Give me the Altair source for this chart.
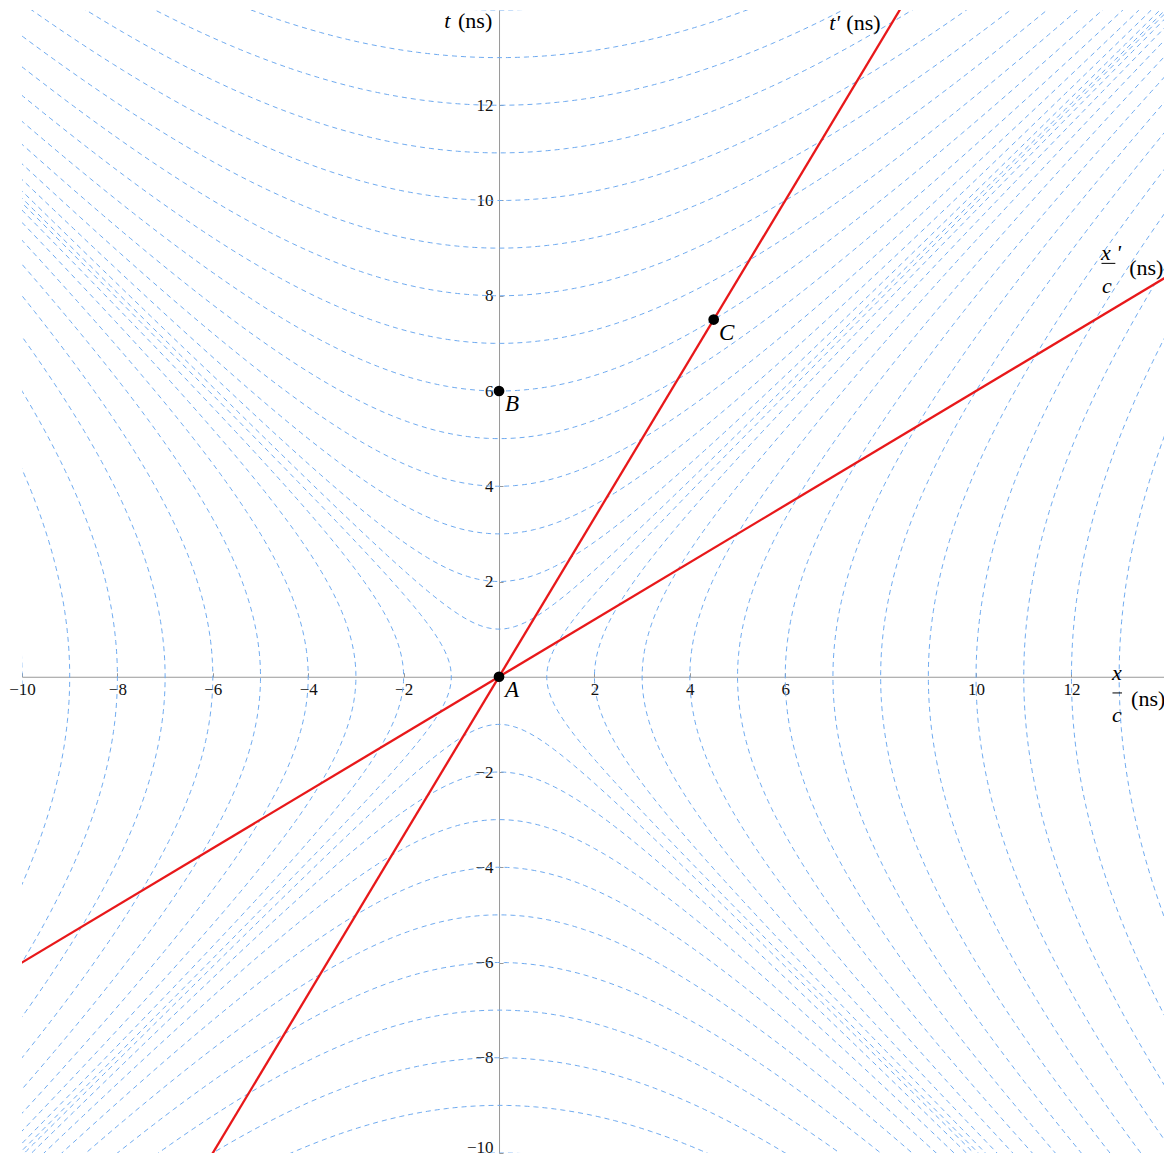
import altair as alt
import numpy as np
import pandas as pd

# ---- data -------------------------------------------------------------
X_DOMAIN = [-10, 13.94]
T_DOMAIN = [-10, 14]
x_tick_values = [-10, -8, -6, -4, -2, 2, 4, 6, 10, 12]
t_tick_values = [-10, -8, -6, -4, -2, 2, 4, 6, 8, 10, 12]
hyperbola_levels = [1, 2, 3, 4, 5, 6, 7, 8, 9, 10, 11, 12, 13, 14]
beta = 0.6  # velocity of primed frame (in units of c)

event_names = ["A", "B", "C"]
event_x = [0.0, 0.0, 4.5]
event_t = [0.0, 6.0, 7.5]

# annotation texts (axis titles)
italic_text = ["t", "t'", "x '", "c", "x", "c"]
italic_x = [-1.15, 6.92, 12.62, 12.64, 12.85, 12.85]
italic_y = [13.62, 13.57, 8.76, 8.06, -0.07, -0.96]
roman_text = ["(ns)", "(ns)", "(ns)", "(ns)"]
roman_x = [-0.86, 7.28, 13.21, 13.25]
roman_y = [13.62, 13.57, 8.44, -0.62]
bar_x = [12.63, 12.86]
bar_x2 = [12.92, 13.06]
bar_y = [8.68, -0.34]

# ---- derived tables ---------------------------------------------------
W, H = 1142, 1143
s = np.linspace(-10.6, 14.6, 361)
rows = []
for k in hyperbola_levels:
    r = np.sqrt(s ** 2 + k ** 2)
    for name, xs, ys in [("up", s, r), ("down", s, -r), ("right", r, s), ("left", -r, s)]:
        for i, (a, b) in enumerate(zip(xs, ys)):
            if -11 <= a <= 15 and -11 <= b <= 15:
                rows.append({"x": float(a), "y": float(b), "curve": f"{k}-{name}", "i": i})
hyp = pd.DataFrame(rows)

ends = [-10.6, 14.6]
lines = pd.DataFrame(
    [{"x": beta * e, "y": e, "line": "tprime", "i": j} for j, e in enumerate(ends)]
    + [{"x": e, "y": beta * e, "line": "xprime", "i": j} for j, e in enumerate(ends)]
)
events = pd.DataFrame({"x": event_x, "y": event_t, "name": event_names})
ital = pd.DataFrame({"x": italic_x, "y": italic_y, "text": italic_text})
roman = pd.DataFrame({"x": roman_x, "y": roman_y, "text": roman_text})
bars = pd.DataFrame({"x": bar_x, "x2": bar_x2, "y": bar_y})

# ---- scales / axes ----------------------------------------------------
FONT = "Liberation Serif"
x_off = -W * X_DOMAIN[1] / (X_DOMAIN[1] - X_DOMAIN[0])
y_off = -H * T_DOMAIN[1] / (T_DOMAIN[1] - T_DOMAIN[0])
xscale = alt.Scale(domain=X_DOMAIN, nice=False, zero=False)
yscale = alt.Scale(domain=T_DOMAIN, nice=False, zero=False)
xaxis = alt.Axis(
    orient="top", offset=y_off, values=x_tick_values, format="d", title=None,
    grid=False, domainColor="#999", tickColor="#999", tickSize=4,
    labelPadding=-9, labelBaseline="top", labelFont=FONT, labelFontSize=17,
    labelColor="#111", labelOverlap=False, labelFlush=False,
)
yaxis = alt.Axis(
    orient="right", offset=x_off, values=t_tick_values, format="d", title=None,
    grid=False, domainColor="#999", tickColor="#999", tickSize=4,
    labelPadding=-10, labelAlign="right", labelFont=FONT,
    labelFontSize=17, labelColor="#111", labelOverlap=False, labelFlush=True,
    labelFlushOffset=3,
)
X = alt.X("x:Q", scale=xscale, axis=xaxis)
Y = alt.Y("y:Q", scale=yscale, axis=yaxis)

hyper_layer = alt.Chart(hyp).mark_line(
    clip=True, color="#6eaaf0", strokeWidth=1, strokeDash=[5, 4]
).encode(x=X, y=Y, detail="curve:N", order="i:Q")

red_layer = alt.Chart(lines).mark_line(
    clip=True, color="#e8181a", strokeWidth=2.3
).encode(x=X, y=Y, detail="line:N", order="i:Q")

pts = alt.Chart(events).mark_circle(color="black", opacity=1, size=115).encode(x=X, y=Y)
pt_labels = alt.Chart(events).mark_text(
    font=FONT, fontStyle="italic", fontSize=23, dx=13, dy=13, align="center", baseline="middle"
).encode(x=X, y=Y, text="name:N")

ital_layer = alt.Chart(ital).mark_text(
    font=FONT, fontStyle="italic", fontSize=22, align="left", baseline="alphabetic", color="black"
).encode(x=X, y=Y, text="text:N")
roman_layer = alt.Chart(roman).mark_text(
    font=FONT, fontSize=22, align="left", baseline="alphabetic", color="black"
).encode(x=X, y=Y, text="text:N")
bar_layer = alt.Chart(bars).mark_rule(color="black", strokeWidth=1).encode(
    x=X, x2="x2:Q", y=Y
)

chart = (
    alt.layer(hyper_layer, red_layer, pts, pt_labels, ital_layer, roman_layer, bar_layer)
    .properties(
        width=W, height=H,
        autosize=alt.AutoSizeParams(type="none"),
        padding={"left": 14, "top": 2, "right": 0, "bottom": 6},
    )
    .configure_view(stroke=None)
)

chart.save("out.html", embed_options={"renderer": "svg", "actions": False})
